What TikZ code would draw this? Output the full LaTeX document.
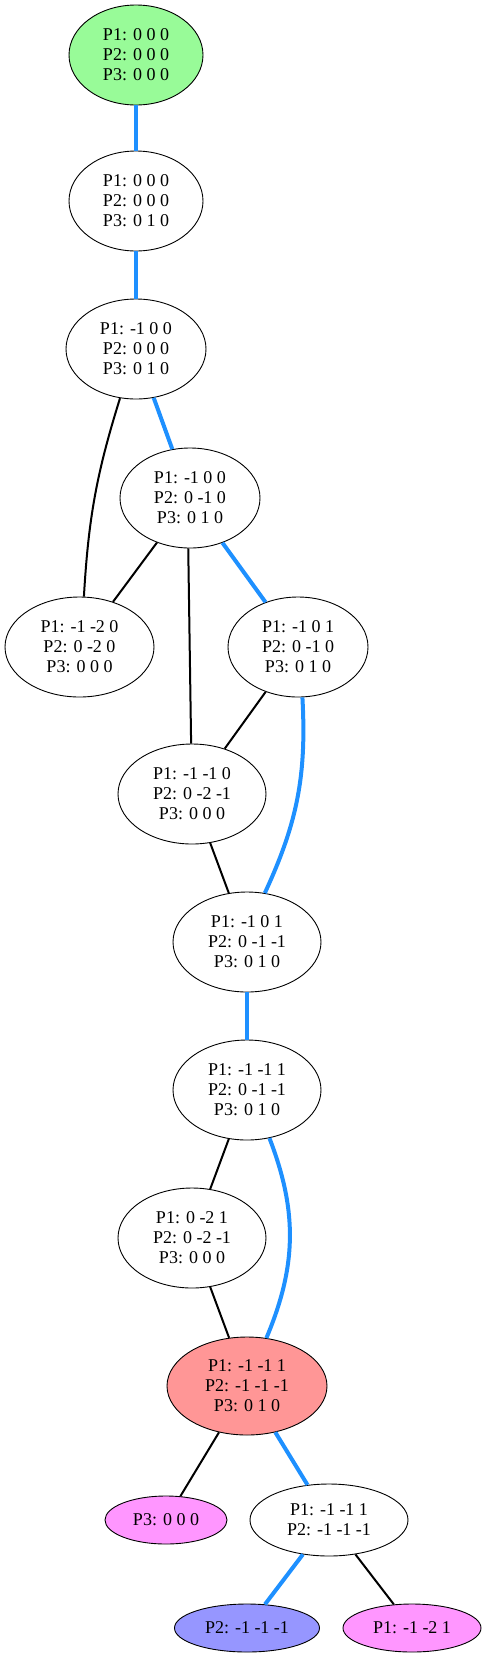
\documentclass[tikz,border=0pt]{standalone}
\usepackage{fontspec}
\setmainfont{Liberation Serif}
\usepackage{tikz}
\usetikzlibrary{shapes.geometric}
\usetikzlibrary{positioning}
\usetikzlibrary{arrows}

\definecolor{startgreen}{HTML}{98FB98}
\definecolor{goalred}{HTML}{FF9696}
\definecolor{leafpink}{HTML}{FF96FF}
\definecolor{leafblue}{HTML}{9696FF}
\definecolor{pathblue}{HTML}{1E90FF}

\begin{document}
\begin{tikzpicture}[x=1pt,y=-1pt,
	state node/.style={ellipse,draw,line width=0.9pt,inner sep=0pt,align=center,
		font=\fontsize{18}{20}\selectfont,minimum width=140pt,minimum height=100pt},
	small node/.style={state node,minimum height=48pt},
	path edge/.style={draw=pathblue,line width=4pt},
	side edge/.style={draw=black,line width=2pt}]
	
	\useasboundingbox (0,0) rectangle (486,1658);
	
	\node[state node,fill=startgreen,minimum width=134pt] (s0) at (136,55) {P1: 0 0 0\\P2: 0 0 0\\P3: 0 0 0};
	\node[state node,minimum width=134pt] (s1) at (136,201) {P1: 0 0 0\\P2: 0 0 0\\P3: 0 1 0};
	\node[state node,minimum width=140pt] (s2) at (136,349) {P1: -1 0 0\\P2: 0 0 0\\P3: 0 1 0};
	\node[state node] (s3) at (190,498) {P1: -1 0 0\\P2: 0 -1 0\\P3: 0 1 0};
	\node[state node,minimum width=149pt] (s4) at (79.5,647) {P1: -1 -2 0\\P2: 0 -2 0\\P3: 0 0 0};
	\node[state node] (s5) at (298,647) {P1: -1 0 1\\P2: 0 -1 0\\P3: 0 1 0};
	\node[state node,minimum width=148pt] (s6) at (192,794) {P1: -1 -1 0\\P2: 0 -2 -1\\P3: 0 0 0};
	\node[state node,minimum width=148pt] (s7) at (247,942) {P1: -1 0 1\\P2: 0 -1 -1\\P3: 0 1 0};
	\node[state node,minimum width=148pt] (s8) at (247,1090) {P1: -1 -1 1\\P2: 0 -1 -1\\P3: 0 1 0};
	\node[state node,minimum width=148pt] (s9) at (192,1238) {P1: 0 -2 1\\P2: 0 -2 -1\\P3: 0 0 0};
	\node[state node,fill=goalred,minimum width=160pt,minimum height=98pt] (s10) at (247,1386) {P1: -1 -1 1\\P2: -1 -1 -1\\P3: 0 1 0};
	\node[small node,fill=leafpink,minimum width=122pt] (s11) at (166,1520) {P3: 0 0 0};
	\node[state node,minimum width=158pt,minimum height=72pt] (s12) at (329,1520) {P1: -1 -1 1\\P2: -1 -1 -1};
	\node[small node,fill=leafblue,minimum width=145pt] (s13) at (247,1628) {P2: -1 -1 -1};
	\node[small node,fill=leafpink,minimum width=138pt] (s14) at (412,1628) {P1: -1 -2 1};
	
	\path
	(s0) edge [path edge] (s1)
	(s1) edge [path edge] (s2)
	(s2) edge [path edge] (s3)
	(s2.252) edge [side edge,bend right=7] (s4.85)
	(s3) edge [side edge] (s4)
	(s3) edge [path edge] (s5)
	(s3.268) edge [side edge] (s6.91)
	(s5) edge [side edge] (s6)
	(s5.275) edge [path edge,bend left=14] (s7.70)
	(s6) edge [side edge] (s7)
	(s7) edge [path edge] (s8)
	(s8) edge [side edge] (s9)
	(s8.295) edge [path edge,bend left=22] (s10.68)
	(s9) edge [side edge] (s10)
	(s10) edge [side edge] (s11)
	(s10) edge [path edge] (s12)
	(s12) edge [path edge] (s13)
	(s12) edge [side edge] (s14);
\end{tikzpicture}
\end{document}
